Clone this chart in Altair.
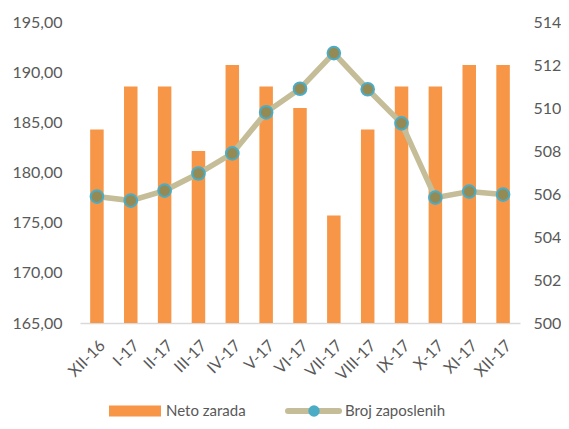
import altair as alt
import pandas as pd

months = ["XII-16", "I-17", "II-17", "III-17", "IV-17", "V-17", "VI-17",
          "VII-17", "VIII-17", "IX-17", "X-17", "XI-17", "XII-17"]
bar_values = [509, 511, 511, 508, 512, 511, 510, 505, 509, 511, 511, 512, 512]
line_values = [177.6, 177.2, 178.2, 179.9, 181.9, 186.0, 188.35, 191.9,
               188.3, 184.9, 177.5, 178.1, 177.8]
left_ticks = [165, 170, 175, 180, 185, 190, 195]
right_ticks = [500, 502, 504, 506, 508, 510, 512, 514]

df = pd.DataFrame({"mesec": months, "bar": bar_values, "line": line_values})

FONT = "Lato"
GREY = "#595959"

x = alt.X("mesec:N", sort=months, title=None,
          scale=alt.Scale(paddingInner=0, paddingOuter=0),
          axis=alt.Axis(labelAngle=-45, labelFontSize=16, labelColor=GREY,
                        labelFont=FONT, ticks=False, domainColor="#D9D9D9",
                        domainWidth=1.5, labelPadding=14, grid=False))

bars = alt.Chart(df).mark_bar(size=13.5, color="#F79646").encode(
    x=x,
    y=alt.Y("bar:Q", title=None,
            scale=alt.Scale(domain=[500, 514], nice=False, zero=False),
            axis=alt.Axis(orient="right", values=right_ticks, labelFontSize=16,
                          labelColor=GREY, labelFont=FONT, ticks=False,
                          domain=False, grid=False, labelPadding=13)),
    y2=alt.datum(500),
)

line_y = alt.Y("line:Q", title=None,
               scale=alt.Scale(domain=[165, 195], nice=False, zero=False),
               axis=alt.Axis(orient="left", values=left_ticks, labelFontSize=16,
                             labelColor=GREY, labelFont=FONT, ticks=False,
                             domain=False, grid=False, labelPadding=18,
                             labelExpr="replace(format(datum.value, '.2f'), '.', ',')"))

line = alt.Chart(df).mark_line(color="#C4BD97", strokeWidth=5.5).encode(x=x, y=line_y)
points = alt.Chart(df).mark_point(filled=True, size=160, fill="#948A54",
                                  stroke="#4BACC6", strokeWidth=2,
                                  opacity=1).encode(x=x, y=line_y)

main = alt.layer(bars, alt.layer(line, points)).resolve_scale(y="independent")

LEG_Y = 389
legend_df = pd.DataFrame({"label": ["Neto zarada"]})
leg_bar = alt.Chart(legend_df).mark_rect(color="#F79646").encode(
    x=alt.value(29), x2=alt.value(81), y=alt.value(LEG_Y - 5.5), y2=alt.value(LEG_Y + 5.5))
leg_bar_text = alt.Chart(legend_df).mark_text(
    align="left", baseline="middle", fontSize=15, font=FONT, color=GREY).encode(
    x=alt.value(86), y=alt.value(LEG_Y), text=alt.value("Neto zarada"))
leg_line = alt.Chart(legend_df).mark_rule(color="#C4BD97", strokeWidth=6,
                                          strokeCap="round").encode(
    x=alt.value(208), x2=alt.value(259), y=alt.value(LEG_Y))
leg_dot = alt.Chart(legend_df).mark_point(filled=True, size=130, fill="#4BACC6",
                                          opacity=1).encode(
    x=alt.value(234), y=alt.value(LEG_Y))
leg_line_text = alt.Chart(legend_df).mark_text(
    align="left", baseline="middle", fontSize=15, font=FONT, color=GREY).encode(
    x=alt.value(265), y=alt.value(LEG_Y), text=alt.value("Broj zaposlenih"))

chart = alt.layer(main, leg_bar, leg_bar_text, leg_line, leg_dot,
                  leg_line_text).resolve_scale(y="independent").properties(
    width=440, height=301,
    autosize=alt.AutoSizeParams(type="none"),
    padding={"left": 72, "top": 14, "right": 41, "bottom": 98},
).configure_view(stroke=None)

chart.save("out.html", embed_options={"renderer": "svg", "actions": False})
